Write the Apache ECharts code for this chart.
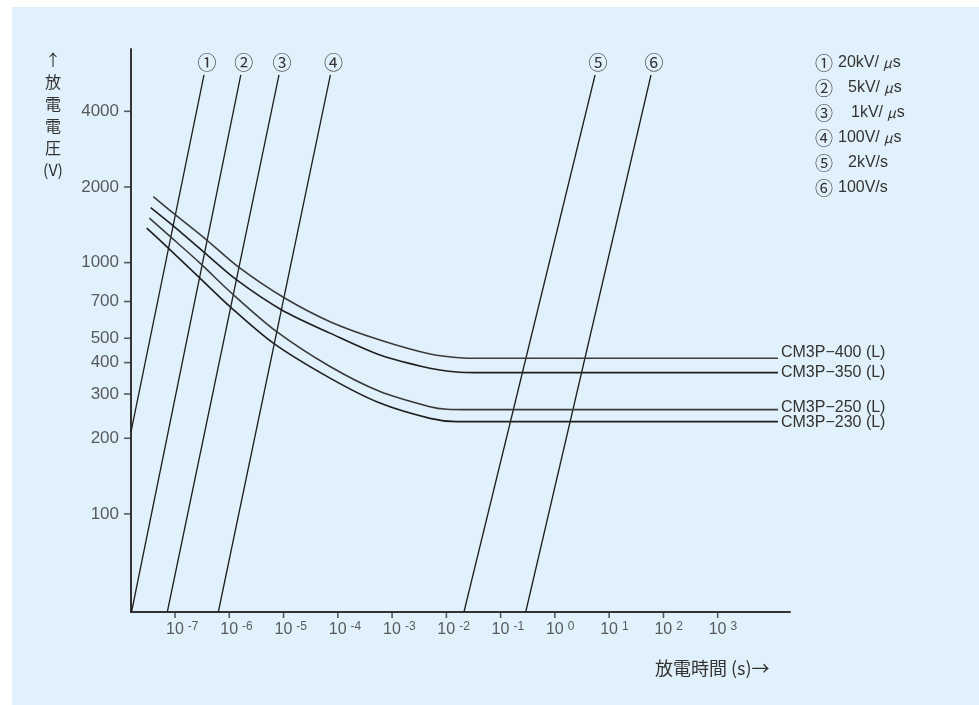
<!DOCTYPE html>
<html>
<head>
<meta charset="utf-8">
<script src="https://cdn.jsdelivr.net/npm/echarts@6.0.0/dist/echarts.min.js"></script>
<style>
html,body{margin:0;padding:0;background:#ffffff;}
#c{width:979px;height:705px;}
</style>
</head>
<body>
<div id="c"></div>
<script>
// ---------- data ----------
// axis extents (t in s, V in volts)
const xExtent = [1.545e-8, 2.15e4];
const yExtent = [40.7, 7080];

// tick labels
const yTickValues = [100, 200, 300, 400, 500, 700, 1000, 2000, 4000];
const xTickExponents = [-7, -6, -5, -4, -3, -2, -1, 0, 1, 2, 3];

// ramp-rate lines (① … ⑥): [time, voltage] of bottom and top ends
const rateMarks = ['①', '②', '③', '④', '⑤', '⑥'];
const rateLegend = ['20kV/μs', '5kV/μs', '1kV/μs', '100V/μs', '2kV/s', '100V/s'];
const rate1 = [[1.545e-8, 212], [3.42e-7, 5580]];
const rate2 = [[1.58e-8, 40.7], [1.63e-6, 5580]];
const rate3 = [[7.21e-8, 40.7], [8.24e-6, 5580]];
const rate4 = [[6.28e-7, 40.7], [7.3e-5, 5580]];
const rate5 = [[0.0211, 40.7], [5.5, 5580]];
const rate6 = [[0.290, 40.7], [59.0, 5580]];

// discharge characteristic curves
const curveNames = ['CM3P−400 (L)', 'CM3P−350 (L)', 'CM3P−250 (L)', 'CM3P−230 (L)'];
const curve400 = [[3.98e-8, 1831], [9.3e-8, 1573], [3.84e-7, 1230], [1.58e-6, 950], [9.9e-6, 728],
  [7.18e-5, 582], [5.98e-4, 492], [5.0e-3, 433], [0.0205, 417], [0.035, 416], [1.29e4, 416]];
const curve350 = [[3.56e-8, 1656], [8.09e-8, 1435], [3.32e-7, 1106], [1.37e-6, 853], [9.25e-6, 648],
  [7.18e-5, 524], [5.98e-4, 429], [5.0e-3, 380], [0.0155, 367], [0.035, 365], [1.29e4, 365]];
const curve250 = [[3.37e-8, 1502], [7.53e-8, 1289], [2.89e-7, 995], [1.11e-6, 755], [7.48e-6, 531],
  [7.18e-5, 386], [5.98e-4, 307], [5.0e-3, 267], [0.0101, 261], [0.03, 260], [1.29e4, 260]];
const curve230 = [[3.01e-8, 1371], [7.03e-8, 1158], [2.69e-7, 880], [1.03e-6, 668], [6.47e-6, 478],
  [7.18e-5, 347], [5.98e-4, 276], [5.0e-3, 240], [0.0155, 233], [0.03, 233], [1.29e4, 233]];

// texts
const yAxisTitle = ['↑', '放', '電', '電', '圧', '(V)'];
const xAxisTitle = '放電時間 (s)→';

// ---------- chart ----------
const FONT = '"Liberation Sans", Arial, "Noto Sans CJK JP", sans-serif';
const CJK = '"Noto Sans CJK JP", sans-serif';
const TXT = '#333333';
const LINE = '#1e1e1e';

const rateLines = [rate1, rate2, rate3, rate4, rate5, rate6];
const curves = [curve400, curve350, curve250, curve230];
const curveLabelOffsets = [[0, -6], [0, 0], [0, -2], [0, 1]];
const legendTextX = [838, 848, 851, 838, 848, 838];
const legendTop = 63, legendStep = 25;

const series = [];

rateLines.forEach((pts, i) => {
  series.push({
    type: 'line',
    name: rateMarks[i],
    data: pts.map((p, j) => j === pts.length - 1 ? {
      value: p,
      label: {
        show: true, position: 'top', distance: 3, offset: [3, 0],
        formatter: rateMarks[i], fontSize: 19, color: TXT, fontFamily: CJK
      }
    } : p),
    symbol: 'circle', symbolSize: 0.01, showSymbol: true,
    lineStyle: { color: LINE, width: 1.3 },
    itemStyle: { color: LINE },
    silent: true, clip: false, z: 3
  });
});

curves.forEach((pts, i) => {
  series.push({
    type: 'line',
    name: curveNames[i],
    data: pts,
    smooth: 0.3,
    showSymbol: false, symbol: 'none',
    lineStyle: { color: i % 2 === 0 ? '#3a3a3a' : LINE, width: 1.6 },
    endLabel: {
      show: true, formatter: curveNames[i], distance: 3, offset: curveLabelOffsets[i],
      fontSize: 16, color: TXT, fontFamily: FONT
    },
    silent: true, clip: false, z: 4
  });
});

// y ticks and labels
series.push({
  type: 'scatter',
  data: yTickValues.map(v => [xExtent[0], v]),
  symbol: 'rect', symbolSize: [7, 1.6], symbolOffset: [-3.5, 0],
  itemStyle: { color: '#333' },
  label: {
    show: true, position: 'left', distance: 5,
    formatter: p => String(p.value[1]),
    fontSize: 17, color: TXT, fontFamily: FONT
  },
  silent: true, clip: false, z: 5
});

// x ticks and labels
series.push({
  type: 'scatter',
  data: xTickExponents.map(e => [Math.pow(10, e), yExtent[0]]),
  symbol: 'rect', symbolSize: [1.6, 6], symbolOffset: [0, 3],
  itemStyle: { color: '#333' },
  label: {
    show: true, position: 'bottom', distance: 3, align: 'left', offset: [-9, 0],
    formatter: p => '{b|10}{s|' + Math.round(Math.log10(p.value[0])) + '}',
    rich: {
      b: { fontSize: 16, color: TXT, fontFamily: FONT, lineHeight: 18 },
      s: { fontSize: 12, color: TXT, fontFamily: FONT, verticalAlign: 'top', padding: [0, 0, 0, 4] }
    }
  },
  silent: true, clip: false, z: 5
});

const graphics = [
  { type: 'rect', shape: { x: 12, y: 7, width: 979, height: 705 }, style: { fill: '#e1f1fb' }, z: -10, silent: true },
  {
    type: 'text', x: 53, y: 49, z: 10,
    style: {
      text: yAxisTitle.join('\n'), fontSize: 16, lineHeight: 22, align: 'center',
      fill: TXT, fontFamily: CJK
    }
  },
  {
    type: 'text', x: 655, y: 668, z: 10,
    style: { text: xAxisTitle, fontSize: 18, fill: TXT, fontFamily: CJK, verticalAlign: 'middle' }
  }
];
rateLegend.forEach((t, i) => {
  const y = legendTop + legendStep * i;
  graphics.push({
    type: 'text', x: 815, y: y, z: 10,
    style: { text: rateMarks[i], fontSize: 18, fill: TXT, fontFamily: CJK, verticalAlign: 'middle' }
  });
  const parts = t.split('μ');
  const rich = parts.length > 1 ? '{a|' + parts[0] + '}{m|μ}{a|' + parts[1] + '}' : '{a|' + t + '}';
  graphics.push({
    type: 'text', x: legendTextX[i], y: y, z: 10,
    style: {
      text: rich, verticalAlign: 'middle',
      rich: {
        a: { fontSize: 16, fill: TXT, fontFamily: FONT },
        m: { fontSize: 14, fill: TXT, fontFamily: CJK, fontStyle: 'italic', padding: [0, 1, 0, 4] }
      }
    }
  });
});

const chart = echarts.init(document.getElementById('c'), null, { renderer: 'canvas' });
chart.setOption({
  animation: false,
  backgroundColor: '#ffffff',
  grid: { left: 131, top: 49, right: 189, bottom: 93, containLabel: false, outerBoundsMode: 'none' },
  xAxis: {
    type: 'log', logBase: 10, min: xExtent[0], max: xExtent[1],
    axisLine: { show: true, lineStyle: { color: '#333', width: 2 } },
    axisTick: { show: false }, axisLabel: { show: false }, splitLine: { show: false }, minorTick: { show: false }
  },
  yAxis: {
    type: 'log', logBase: 10, min: yExtent[0], max: yExtent[1],
    axisLine: { show: true, lineStyle: { color: '#333', width: 2 } },
    axisTick: { show: false }, axisLabel: { show: false }, splitLine: { show: false }, minorTick: { show: false }
  },
  graphic: graphics,
  series: series
});
</script>
</body>
</html>
